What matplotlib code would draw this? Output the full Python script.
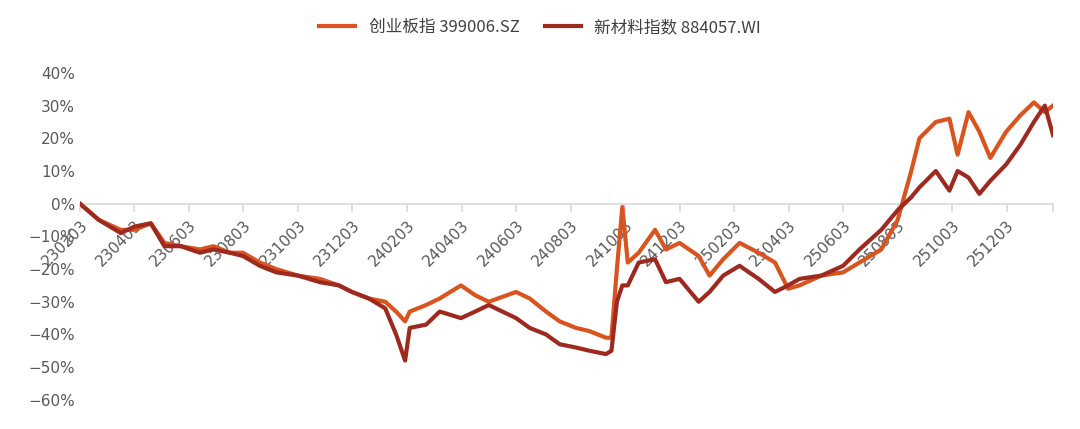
import matplotlib.pyplot as plt
import matplotlib.ticker as mticker

plt.rcParams['font.family'] = ['Noto Sans CJK SC', 'DejaVu Sans']

# months elapsed since 2023-02-03
months = [0.0, 0.7, 1.5, 2.0, 2.6, 3.1, 3.7, 4.4, 4.9, 5.5, 5.98, 6.6, 7.2, 8.0, 8.8, 9.5,
          9.98, 10.6, 11.2, 11.6, 11.93, 12.1, 12.7, 13.2, 13.98, 14.5, 15.0, 16.0, 16.5,
          17.1, 17.6, 18.2, 18.7, 19.3, 19.5, 19.7, 19.9, 20.1, 20.5, 21.1, 21.5, 22.0,
          22.7, 23.1, 23.6, 24.2, 24.9, 25.5, 25.98, 26.4, 27.2, 28.0, 28.6, 29.4, 30.0,
          30.5, 30.8, 31.4, 31.9, 32.2, 32.6, 33.0, 33.4, 33.98, 34.5, 35.0, 35.4, 35.7]

chinext = [0, -5, -8, -8, -6, -12, -13, -14, -13, -15, -15, -18, -20, -22, -23, -25,
           -27, -29, -30, -33, -36, -33, -31, -29, -25, -28, -30, -27, -29,
           -33, -36, -38, -39, -41, -41, -20, -1, -18, -15, -8, -14, -12,
           -16, -22, -17, -12, -15, -18, -26, -25, -22, -21, -18, -14, -5,
           10, 20, 25, 26, 15, 28, 22, 14, 22, 27, 31, 28, 30]

new_material = [0, -5, -9, -7, -6, -13, -13, -15, -14, -15, -16, -19, -21, -22, -24, -25,
                -27, -29, -32, -40, -48, -38, -37, -33, -35, -33, -31, -35, -38,
                -40, -43, -44, -45, -46, -45, -30, -25, -25, -18, -17, -24, -23,
                -30, -27, -22, -19, -23, -27, -25, -23, -22, -19, -14, -8, -2,
                2, 5, 10, 4, 10, 8, 3, 7, 12, 18, 25, 30, 21]

tick_labels = ['230203', '230403', '230603', '230803', '231003', '231203',
               '240203', '240403', '240603', '240803', '241003', '241203',
               '250203', '250403', '250603', '250803', '251003', '251203']

fig = plt.figure(figsize=(10.8, 4.29), dpi=100)
ax = fig.add_axes([0.074, 0.068, 0.901, 0.762])

ax.plot(months, chinext, color='#D9541E', lw=3, label='创业板指 399006.SZ')
ax.plot(months, new_material, color='#9E2A1F', lw=3, label='新材料指数 884057.WI')

ax.set_xlim(0, 35.7)
ax.set_ylim(-60, 40)
ax.yaxis.set_major_locator(mticker.MultipleLocator(10))
ax.yaxis.set_major_formatter(mticker.FuncFormatter(
    lambda v, p: f'{v:.0f}%'.replace('-', '\u2212')))

for s in ['top', 'right', 'left']:
    ax.spines[s].set_visible(False)
ax.spines['bottom'].set_position(('data', 0))
ax.spines['bottom'].set_color('#D9D9D9')
ax.spines['bottom'].set_linewidth(1.2)
ax.spines['bottom'].set_zorder(0)

ax.set_xticks([2 * i for i in range(len(tick_labels))] + [35.7])
ax.set_xticklabels(tick_labels + [''], rotation=45, ha='right', rotation_mode='anchor')
ax.tick_params(axis='x', colors='#D9D9D9', length=6, width=1.2, labelcolor='#595959',
               labelsize=11, pad=4)
ax.tick_params(axis='y', length=0, labelcolor='#595959', labelsize=11)
for lab in ax.get_xticklabels() + ax.get_yticklabels():
    lab.set_family('DejaVu Sans')

fig.legend(loc='upper center', bbox_to_anchor=(0.5, 0.99), ncol=2, frameon=False,
           fontsize=12, handlelength=2.2, columnspacing=1.5, labelcolor='#404040')

plt.savefig('out.png', dpi=100)
